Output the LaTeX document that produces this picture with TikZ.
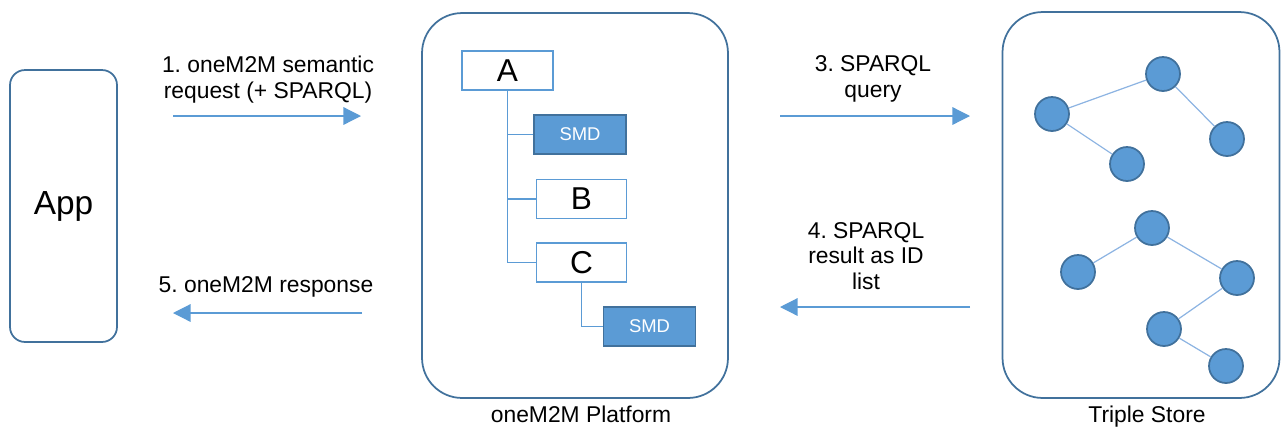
\documentclass[tikz,border=0pt]{standalone}
\usepackage{fontspec}
\setmainfont{Liberation Sans}
\usetikzlibrary{arrows.meta,positioning}
\definecolor{smdblue}{HTML}{5B9BD5}
\definecolor{edgeblue}{HTML}{41719C}
\definecolor{linkblue}{HTML}{8DB4E2}
\frenchspacing

\begin{document}
\begin{tikzpicture}[x=0.02cm,y=-0.02cm,>={Triangle[length=10pt,width=10pt]},
	frame/.style={draw=edgeblue,line width=1pt,rounded corners=0.8cm},
	resbox/.style={draw=smdblue,line width=1pt,fill=white,minimum width=1.8cm,minimum height=0.78cm,inner sep=0pt,font=\fontsize{18}{20}\selectfont},
	smdbox/.style={draw=edgeblue,line width=1pt,fill=smdblue,text=white,minimum width=1.84cm,minimum height=0.78cm,inner sep=0pt,font=\fontsize{10.5}{12}\selectfont},
	triple/.style={circle,draw=edgeblue,line width=1pt,fill=smdblue,minimum size=0.68cm,inner sep=0pt},
	msg/.style={->,smdblue,line width=0.7pt},
	tree/.style={smdblue,line width=1pt},
	link/.style={linkblue,line width=0.7pt},
	lbl/.style={align=center,font=\fontsize{13}{14.7}\selectfont}]

	\useasboundingbox (0,0) rectangle (1281,427);

	% Draw the three frames
	\node[frame,rounded corners=0.3cm,minimum width=2.14cm,minimum height=5.44cm,font=\fontsize{19}{21}\selectfont] (app) at (63.5,206) {App};
	\node[frame,minimum width=6.12cm,minimum height=7.7cm] (platform) at (575,205.5) {};
	\node[frame,minimum width=5.54cm,minimum height=7.72cm] (store) at (1141,205) {};

	% Draw the frame labels
	\node[lbl,anchor=base] (platformlabel) at (581,422) {oneM2M Platform};
	\node[lbl,anchor=base] (storelabel) at (1147,422) {Triple Store};

	% Draw the resource tree
	\node[resbox,minimum width=1.82cm] (resA) at (507.5,70.5) {A};
	\node[smdbox] (smdA) at (580,134.5) {SMD};
	\node[resbox] (resB) at (581.5,199) {B};
	\node[resbox] (resC) at (581.5,262.5) {C};
	\node[smdbox] (smdC) at (649.5,326.5) {SMD};
	\draw[tree] (resA.south) |- (resC.west);
	\draw[tree] (resA.south |- smdA.west) -- (smdA.west);
	\draw[tree] (resA.south |- resB.west) -- (resB.west);
	\draw[tree] (resC.south) |- (smdC.west);

	% Draw the triples in the store
	\foreach \n/\x/\y in {1/1052/114, 2/1163/74, 3/1227/139, 4/1127/164, 5/1152/228,
		6/1078/272, 7/1237/278, 8/1164/329, 9/1226/366}
		\node[triple] (t\n) at (\x,\y) {};
	\draw[link] (t1) -- (t2);
	\draw[link] (t1) -- (t4);
	\draw[link] (t2) -- (t3);
	\draw[link] (t5) -- (t6);
	\draw[link] (t5) -- (t7);
	\draw[link] (t7) -- (t8);
	\draw[link] (t8) -- (t9);

	% Draw the message arrows
	\coordinate (reqstart) at (173,116);
	\coordinate (reqend) at (361,116);
	\coordinate (qrystart) at (780,116);
	\coordinate (qryend) at (970,116);
	\coordinate (resstart) at (970,307);
	\coordinate (resend) at (780,307);
	\coordinate (rspstart) at (362,313);
	\coordinate (rspend) at (173,313);
	\draw[msg] (reqstart) -- (reqend);
	\draw[msg] (qrystart) -- (qryend);
	\draw[msg] (resstart) -- (resend);
	\draw[msg] (rspstart) -- (rspend);

	% Draw the message labels
	\node[lbl] (reqlabel) at (268,80) {1. oneM2M semantic\\request (+ SPARQL)};
	\node[lbl] (qrylabel) at (873,79) {3. SPARQL\\query};
	\node[lbl] (reslabel) at (866,256) {4. SPARQL\\result as ID\\list};
	\node[lbl] (rsplabel) at (266,287) {5. oneM2M response};

\end{tikzpicture}
\end{document}
